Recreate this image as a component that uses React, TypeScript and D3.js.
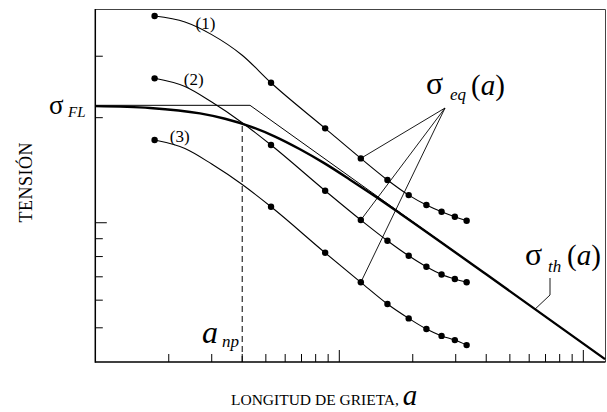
import React from "react";
import * as d3 from "d3";

// ---- data (crack length a, stress sigma), log-log schematic ----
const X_MIN = 1;
const X_MAX = 122.7;
const Y_MIN = 0.399;
const Y_MAX = 4.07;

const X_MINOR_TICKS = [2, 3, 4, 5, 6, 7, 8, 9, 20, 30, 40, 50, 60, 70, 80, 90];
const X_MAJOR_TICKS = [10, 100];
const Y_MINOR_TICKS = [0.5, 0.6, 0.7, 0.8, 0.9, 2, 3];
const Y_MAJOR_TICKS = [1];

// dotted curves (1), (2), (3)
const DOT_A = [1.75, 5.25, 8.75, 12.25, 15.75, 19.25, 22.75, 26.25, 29.75, 33.25];
const CURVE1_SIGMA = [3.911, 2.518, 1.864, 1.529, 1.326, 1.2, 1.124, 1.075, 1.04, 1.013];
const CURVE2_SIGMA = [2.593, 1.67, 1.235, 1.018, 0.888, 0.804, 0.748, 0.711, 0.69, 0.675];
const CURVE3_SIGMA = [1.726, 1.111, 0.82, 0.675, 0.585, 0.532, 0.496, 0.474, 0.461, 0.446];
// undotted points read along the bend between first and second dot
const BEND_A = [2.33, 3.0, 4.0];
const CURVE1_BEND = [3.76, 3.46, 3.02];
const CURVE2_BEND = [2.456, 2.217, 1.935];
const CURVE3_BEND = [1.632, 1.473, 1.287];

// threshold curve sigma_th(a)
const TH_A = [1, 1.676, 2.686, 3.401, 4.306, 5.451, 6.902, 8.738, 11.06, 14.01, 17.74, 40, 122.7];
const TH_SIGMA = [2.159, 2.132, 2.057, 1.986, 1.889, 1.766, 1.624, 1.477, 1.329, 1.191, 1.063, 0.7115, 0.4066];

// asymptotes (fatigue limit and LEFM line)
const SIGMA_FL = 2.17;
const A_KNEE = 4.306;
const ASYM_END = [122.7, 0.4066];

// a_np
const A_NP = 4.0;
const SIGMA_NP = 1.935;

// point on sigma_th where its leader ends
const TH_LEADER = [63.4, 0.5655];

const SERIF = "'Liberation Serif', 'Times New Roman', serif";

export default function App() {
  const x = d3.scaleLog().domain([X_MIN, X_MAX]).range([95.3, 605]);
  const y = d3.scaleLog().domain([Y_MIN, Y_MAX]).range([362, 10]);
  const yBottom = y(Y_MIN);
  const xLeft = x(X_MIN);

  const line = d3
    .line<number[]>()
    .x((d) => x(d[0]))
    .y((d) => y(d[1]))
    .curve(d3.curveMonotoneX);
  const poly = d3
    .line<number[]>()
    .x((d) => x(d[0]))
    .y((d) => y(d[1]));

  const curves = [
    { s: CURVE1_SIGMA, b: CURVE1_BEND },
    { s: CURVE2_SIGMA, b: CURVE2_BEND },
    { s: CURVE3_SIGMA, b: CURVE3_BEND },
  ];

  const thPts = TH_A.map((a, i) => [a, TH_SIGMA[i]]);
  const asym = [
    [X_MIN, SIGMA_FL],
    [A_KNEE, SIGMA_FL],
    ASYM_END,
  ];

  const apex = [445, 108];

  return (
    <svg
      width={607}
      height={412}
      style={{ position: "absolute", left: 0, top: 0, background: "#fff" }}
      fontFamily={SERIF}
    >
      <rect x={0} y={0} width={607} height={412} fill="#fff" />
      {/* frame */}
      <line x1={xLeft} y1={9.5} x2={605.5} y2={9.5} stroke="#444" strokeWidth={1} />
      <line x1={605.5} y1={9.5} x2={605.5} y2={yBottom} stroke="#444" strokeWidth={1} />
      <line x1={xLeft} y1={9} x2={xLeft} y2={yBottom + 0.7} stroke="#000" strokeWidth={1.5} />
      <line x1={xLeft} y1={yBottom} x2={605.5} y2={yBottom} stroke="#000" strokeWidth={1.5} />

      {/* ticks */}
      {X_MINOR_TICKS.map((t) => (
        <line key={"xm" + t} x1={x(t)} x2={x(t)} y1={yBottom} y2={yBottom - 8} stroke="#000" strokeWidth={1} />
      ))}
      {X_MAJOR_TICKS.map((t) => (
        <line key={"xM" + t} x1={x(t)} x2={x(t)} y1={yBottom} y2={yBottom - 12} stroke="#000" strokeWidth={1} />
      ))}
      {Y_MINOR_TICKS.map((t) => (
        <line key={"ym" + t} x1={xLeft} x2={xLeft + 7.5} y1={y(t)} y2={y(t)} stroke="#000" strokeWidth={1} />
      ))}
      {Y_MAJOR_TICKS.map((t) => (
        <line key={"yM" + t} x1={xLeft} x2={xLeft + 11.5} y1={y(t)} y2={y(t)} stroke="#000" strokeWidth={1} />
      ))}

      {/* asymptote thin line */}
      <path d={poly(asym) || ""} fill="none" stroke="#000" strokeWidth={1} />

      {/* dashed a_np */}
      <line
        x1={x(A_NP)}
        x2={x(A_NP)}
        y1={yBottom}
        y2={y(SIGMA_NP)}
        stroke="#000"
        strokeWidth={1}
        strokeDasharray="6,4"
      />

      {/* threshold curve */}
      <path d={line(thPts) || ""} fill="none" stroke="#000" strokeWidth={2.4} />

      {/* dotted curves */}
      {curves.map((c, k) => {
        const pts = [[DOT_A[0], c.s[0]]]
          .concat(BEND_A.map((a, i) => [a, c.b[i]]))
          .concat(DOT_A.slice(1).map((a, i) => [a, c.s[i + 1]]));
        return (
          <g key={"c" + k}>
            <path d={line(pts) || ""} fill="none" stroke="#000" strokeWidth={1.1} />
            {DOT_A.map((a, i) => (
              <circle key={i} cx={x(a)} cy={y(c.s[i])} r={3.2} fill="#000" />
            ))}
          </g>
        );
      })}

      {/* sigma_eq leaders */}
      {curves.map((c, k) => (
        <line
          key={"l" + k}
          x1={apex[0]}
          y1={apex[1]}
          x2={x(DOT_A[3])}
          y2={y(c.s[3])}
          stroke="#000"
          strokeWidth={0.9}
        />
      ))}

      {/* sigma_th leader */}
      <polyline
        points={`550,278 550,295 ${x(TH_LEADER[0])},${y(TH_LEADER[1])}`}
        fill="none"
        stroke="#000"
        strokeWidth={0.9}
      />

      {/* curve labels */}
      <text x={205.5} y={28.5} fontSize={17} textAnchor="middle">(1)</text>
      <text x={193.7} y={85} fontSize={17} textAnchor="middle">(2)</text>
      <text x={179.7} y={142} fontSize={17} textAnchor="middle">(3)</text>

      {/* sigma_FL */}
      <text x={49} y={113.5} fontSize={27}>σ</text>
      <text x={68} y={117} fontSize={15} fontStyle="italic">FL</text>

      {/* sigma_eq(a) */}
      <text x={426} y={93.5} fontSize={32}>σ</text>
      <text x={450} y={99.5} fontSize={17} fontStyle="italic">eq</text>
      <text x={471} y={94.5} fontSize={29}>
        (<tspan fontStyle="italic">a</tspan>)
      </text>

      {/* sigma_th(a) */}
      <text x={525} y={265} fontSize={32}>σ</text>
      <text x={548} y={271.5} fontSize={17} fontStyle="italic">th</text>
      <text x={567} y={265} fontSize={29}>
        (<tspan fontStyle="italic">a</tspan>)
      </text>

      {/* a_np */}
      <text x={202} y={343} fontSize={32} fontStyle="italic">a</text>
      <text x={222} y={347} fontSize={17} fontStyle="italic">np</text>

      {/* axis titles */}
      <text x={231} y={405} fontSize={15.5}>
        LONGITUD DE GRIETA,{" "}
        <tspan fontSize={29} fontStyle="italic">a</tspan>
      </text>
      <text
        transform="translate(32,182.5) rotate(-90)"
        fontSize={18}
        textAnchor="middle"
        textLength={80}
        lengthAdjust="spacing"
      >
        TENSIÓN
      </text>
    </svg>
  );
}
